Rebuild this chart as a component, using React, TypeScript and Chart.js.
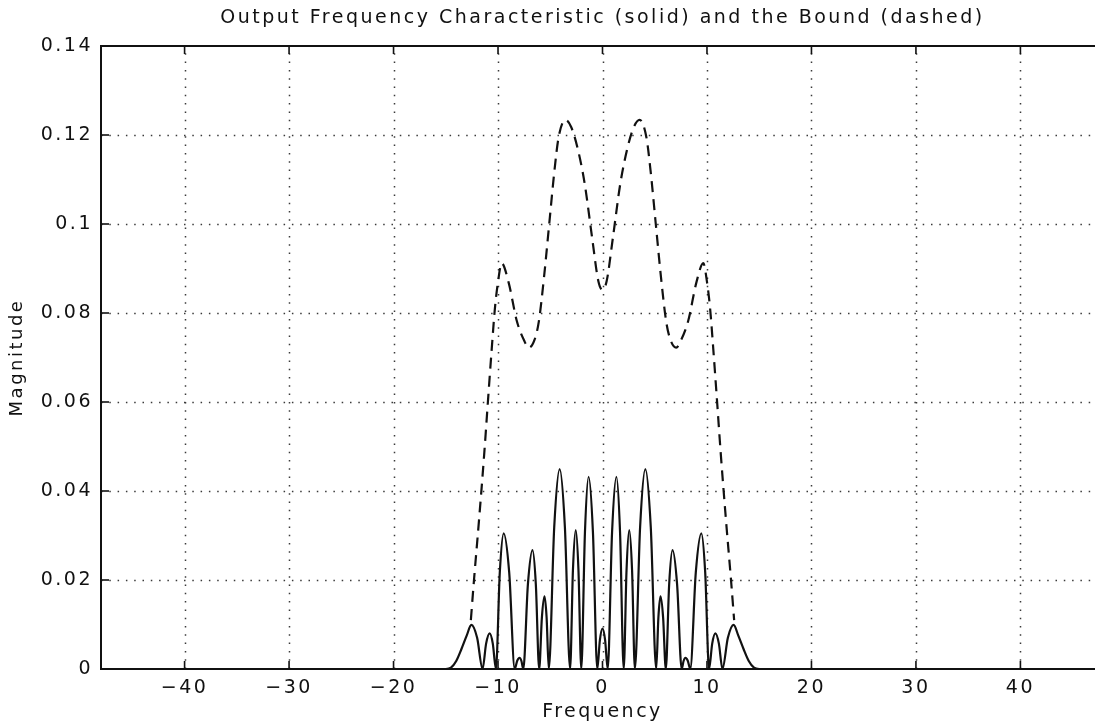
import { useEffect, useRef } from "react";
import { Chart, registerables } from "chart.js";

Chart.register(...registerables);

// ---- Data ----
const xTickValues = [-40, -30, -20, -10, 0, 10, 20, 30, 40];
const xTickLabels = ["−40", "−30", "−20", "−10", "0", "10", "20", "30", "40"];
const yTickValues = [0, 0.02, 0.04, 0.06, 0.08, 0.1, 0.12, 0.14];
const yTickLabels = ["0", "0.02", "0.04", "0.06", "0.08", "0.1", "0.12", "0.14"];

// Output frequency characteristic (solid)
const solidFreq = [
  -48, -15, -14.5, -14.0, -13.5, -13.0, -12.55, -12.0, -11.48,
  -11.14, -10.8, -10.5, -10.2,
  -9.83, -9.46, -8.93, -8.4,
  -8.17, -7.94, -7.76, -7.58,
  -7.14, -6.7, -6.38, -6.06,
  -5.8, -5.55, -5.35, -5.14,
  -4.62, -4.1, -3.6, -3.1,
  -2.83, -2.56, -2.3, -2.03,
  -1.68, -1.33, -0.915, -0.5,
  -0.25, 0, 0.25, 0.5,
  0.915, 1.33, 1.68, 2.03,
  2.3, 2.56, 2.83, 3.1,
  3.6, 4.1, 4.62, 5.14,
  5.35, 5.55, 5.8, 6.06,
  6.38, 6.7, 7.14, 7.58,
  7.76, 7.94, 8.17, 8.4,
  8.93, 9.46, 9.83, 10.2,
  10.5, 10.8, 11.14, 11.48,
  12.0, 12.55, 13.0, 13.5, 14.0, 14.5, 15, 48,
];
const solidMag = [
  0, 0, 0.0003, 0.0018, 0.0045, 0.0075, 0.0099, 0.007, 0,
  0.0057, 0.008, 0.0057, 0,
  0.0217, 0.0305, 0.0217, 0,
  0.0018, 0.0025, 0.0018, 0,
  0.019, 0.0267, 0.019, 0,
  0.0116, 0.0163, 0.0116, 0,
  0.0319, 0.0449, 0.0319, 0,
  0.0222, 0.0312, 0.0222, 0,
  0.0307, 0.0432, 0.0307, 0,
  0.0065, 0.0091, 0.0065, 0,
  0.0307, 0.0432, 0.0307, 0,
  0.0222, 0.0312, 0.0222, 0,
  0.0319, 0.0449, 0.0319, 0,
  0.0116, 0.0163, 0.0116, 0,
  0.019, 0.0267, 0.019, 0,
  0.0018, 0.0025, 0.0018, 0,
  0.0217, 0.0305, 0.0217, 0,
  0.0057, 0.008, 0.0057, 0,
  0.007, 0.0099, 0.0075, 0.0045, 0.0018, 0.0003, 0, 0,
];

// The bound (dashed)
const boundFreq = [
  -12.6, -12.3, -11.8, -11.3, -11.0, -10.6, -10.3, -10.0, -9.65,
  -9.0, -8.2, -7.5, -7.05, -6.5, -6.1, -5.6, -5.1, -4.6, -4.2,
  -3.55, -3.0, -2.4, -1.7, -1.0, -0.4, 0,
  0.4, 1.0, 1.7, 2.4, 3.0, 3.55,
  4.2, 4.6, 5.1, 5.6, 6.1, 6.5, 7.05, 7.5, 8.2, 9.0,
  9.65, 10.0, 10.3, 10.6, 11.0, 11.3, 11.8, 12.3, 12.6,
];
const boundMag = [
  0.011, 0.02, 0.034, 0.049, 0.059, 0.072, 0.081, 0.087, 0.0912,
  0.087, 0.0782, 0.0738, 0.0722, 0.074, 0.078, 0.088, 0.1, 0.112, 0.1195,
  0.1234, 0.1218, 0.1172, 0.109, 0.097, 0.0872, 0.0852,
  0.0872, 0.097, 0.109, 0.1172, 0.1218, 0.1234,
  0.1195, 0.112, 0.1, 0.088, 0.078, 0.074, 0.0722, 0.0738, 0.0782, 0.087,
  0.0912, 0.087, 0.081, 0.072, 0.059, 0.049, 0.034, 0.02, 0.011,
];

const FONT = "'DejaVu Sans', Verdana, sans-serif";
const INK = "#111";
const LETTER_SPACING = "2.5px";

const spacingPlugin = {
  id: "letterSpacing",
  beforeUpdate(chart: any) {
    try { chart.ctx.letterSpacing = LETTER_SPACING; } catch (e) { /* ignore */ }
  },
  beforeDraw(chart: any) {
    try { chart.ctx.letterSpacing = LETTER_SPACING; } catch (e) { /* ignore */ }
  },
};

const framePlugin = {
  id: "matlabFrame",
  beforeDatasetsDraw(chart: any) {
    const { ctx, chartArea } = chart;
    const { left, right, top, bottom } = chartArea;
    const xs = chart.scales.x;
    const ys = chart.scales.y;
    ctx.save();
    ctx.strokeStyle = "#3a3a3a";
    ctx.lineWidth = 1.5;
    ctx.setLineDash([1.5, 6.8]);
    xTickValues.forEach((v) => {
      const px = Math.round(xs.getPixelForValue(v)) + 0.5;
      ctx.beginPath();
      ctx.moveTo(px, bottom);
      ctx.lineTo(px, top);
      ctx.stroke();
    });
    yTickValues.forEach((v) => {
      if (v === 0 || v === 0.14) return;
      const py = Math.round(ys.getPixelForValue(v)) + 0.5;
      ctx.beginPath();
      ctx.moveTo(left, py);
      ctx.lineTo(right, py);
      ctx.stroke();
    });
    ctx.restore();
  },
  afterDraw(chart: any) {
    const { ctx, chartArea } = chart;
    const { left, right, top, bottom } = chartArea;
    const xs = chart.scales.x;
    const ys = chart.scales.y;
    ctx.save();
    ctx.setLineDash([]);
    ctx.strokeStyle = INK;
    ctx.lineWidth = 2;
    ctx.beginPath();
    ctx.moveTo(left, top);
    ctx.lineTo(right, top);
    ctx.lineTo(right, bottom);
    ctx.lineTo(left, bottom);
    ctx.closePath();
    ctx.stroke();
    ctx.lineWidth = 1.6;
    xTickValues.forEach((v) => {
      const px = xs.getPixelForValue(v);
      ctx.beginPath();
      ctx.moveTo(px, bottom);
      ctx.lineTo(px, bottom - 8);
      ctx.moveTo(px, top);
      ctx.lineTo(px, top + 8);
      ctx.stroke();
    });
    yTickValues.forEach((v) => {
      const py = ys.getPixelForValue(v);
      ctx.beginPath();
      ctx.moveTo(left, py);
      ctx.lineTo(left + 8, py);
      ctx.stroke();
    });
    ctx.restore();
  },
};

export default function App() {
  const canvasRef = useRef<HTMLCanvasElement | null>(null);

  useEffect(() => {
    document.documentElement.style.overflow = "hidden";
    document.body.style.overflow = "hidden";
    const canvas = canvasRef.current;
    if (!canvas) return;

    const solidData = solidFreq.map((x, i) => ({ x, y: solidMag[i] }));
    const boundData = boundFreq.map((x, i) => ({ x, y: boundMag[i] }));

    const chart = new Chart(canvas, {
      type: "line",
      data: {
        datasets: [
          {
            label: "Output frequency characteristic",
            data: solidData,
            borderColor: INK,
            borderWidth: 2.2,
            pointRadius: 0,
            fill: false,
            cubicInterpolationMode: "monotone",
          },
          {
            label: "Bound",
            data: boundData,
            borderColor: INK,
            borderWidth: 2.2,
            borderDash: [11, 7],
            pointRadius: 0,
            fill: false,
            cubicInterpolationMode: "monotone",
          },
        ],
      },
      options: {
        animation: false,
        responsive: false,
        maintainAspectRatio: false,
        layout: { padding: { left: 0, right: 8, top: 0, bottom: 0 } },
        plugins: {
          legend: { display: false },
          tooltip: { enabled: false },
          title: { display: false },
        },
        scales: {
          x: {
            type: "linear",
            position: "bottom",
            min: -48,
            max: 48,
            afterBuildTicks: (scale: any) => {
              scale.ticks = xTickValues.map((v) => ({ value: v }));
            },
            afterFit: (scale: any) => {
              scale.height = 58;
            },
            grid: { display: false, drawTicks: false },
            border: { display: false },
            ticks: {
              autoSkip: false,
              maxRotation: 0,
              padding: 8,
              color: INK,
              font: { family: FONT, size: 19 },
              callback: (v: any) => {
                const i = xTickValues.indexOf(Number(v));
                return i >= 0 ? xTickLabels[i] : "";
              },
            },
            title: {
              display: true,
              text: "Frequency",
              color: INK,
              font: { family: FONT, size: 19 },
              padding: { top: 0, bottom: 4 },
            },
          },
          x2: {
            type: "linear",
            position: "top",
            min: -48,
            max: 48,
            afterFit: (scale: any) => {
              scale.height = 46;
            },
            grid: { display: false, drawTicks: false },
            border: { display: false },
            ticks: { display: false },
            title: {
              display: true,
              text: "Output Frequency Characteristic (solid) and the Bound (dashed)",
              color: INK,
              font: { family: FONT, size: 19 },
              padding: { top: 7, bottom: 0 },
            },
          },
          y: {
            type: "linear",
            position: "left",
            min: 0,
            max: 0.14,
            afterBuildTicks: (scale: any) => {
              scale.ticks = yTickValues.map((v) => ({ value: v }));
            },
            afterFit: (scale: any) => {
              scale.width = 101;
            },
            grid: { display: false, drawTicks: false },
            border: { display: false },
            ticks: {
              autoSkip: false,
              padding: 8,
              color: INK,
              font: { family: FONT, size: 19 },
              callback: (v: any) => {
                const i = yTickValues.findIndex((t) => Math.abs(t - Number(v)) < 1e-9);
                return i >= 0 ? yTickLabels[i] : "";
              },
            },
            title: {
              display: true,
              text: "Magnitude",
              color: INK,
              font: { family: FONT, size: 18 },
              padding: { top: 7, bottom: 0 },
            },
          },
        },
      },
      plugins: [spacingPlugin, framePlugin],
    } as any);

    return () => {
      chart.destroy();
    };
  }, []);

  return (
    <div style={{ position: "fixed", left: 0, top: 0, width: 1112, height: 727, background: "#fff" }}>
      <canvas ref={canvasRef} width={1112} height={727} style={{ display: "block", width: 1112, height: 727 }} />
    </div>
  );
}
